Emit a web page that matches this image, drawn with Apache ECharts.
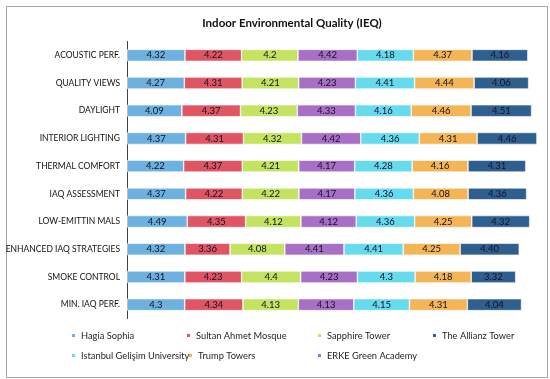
<!DOCTYPE html>
<html>
<head>
<meta charset="utf-8">
<script src="https://cdn.jsdelivr.net/npm/echarts@6/dist/echarts.min.js"></script>
<style>html,body{margin:0;padding:0;background:#fff}#c{width:550px;height:379px}</style>
</head>
<body>
<div id="c"></div>
<script>
const categories = ['ACOUSTIC PERF.','QUALITY VIEWS','DAYLIGHT','INTERIOR LIGHTING','THERMAL COMFORT','IAQ ASSESSMENT','LOW-EMITTIN MALS','ENHANCED IAQ STRATEGIES','SMOKE CONTROL','MIN. IAQ PERF.'];
const hagiaSophia   = [4.32,4.27,4.09,4.37,4.22,4.37,4.49,4.32,4.31,4.3];
const sultanAhmet   = [4.22,4.31,4.37,4.31,4.37,4.22,4.35,3.36,4.23,4.34];
const sapphire      = [4.2,4.21,4.23,4.32,4.21,4.22,4.12,4.08,4.4,4.13];
const erke          = [4.42,4.23,4.33,4.42,4.17,4.17,4.12,4.41,4.23,4.13];
const gelisim       = [4.18,4.41,4.16,4.36,4.28,4.36,4.36,4.41,4.3,4.15];
const trump         = [4.37,4.44,4.46,4.31,4.16,4.08,4.25,4.25,4.18,4.31];
const allianz       = [4.16,4.06,4.51,4.46,4.31,4.36,4.32,4.40,3.32,4.04];
const allianzLabels = ['4.16','4.06','4.51','4.46','4.31','4.36','4.32','4.40','3.32','4.04'];

const FONT = 'Lato, "Liberation Sans", sans-serif';
const seriesDefs = [
  ['Hagia Sophia', hagiaSophia, '#6db1e0'],
  ['Sultan Ahmet Mosque', sultanAhmet, '#e05563'],
  ['Sapphire Tower', sapphire, '#c4e360'],
  ['ERKE Green Academy', erke, '#a76fc5'],
  ['Istanbul Gelişim University', gelisim, '#66dbee'],
  ['Trump Towers', trump, '#f3b556'],
  ['The Allianz Tower', allianz, '#2f5f8f']
];
const series = seriesDefs.map(([name, data, color]) => ({
  name, type: 'bar', stack: 'all', data, barWidth: 12,
  itemStyle: {color, borderColor: '#ffffff', borderWidth: 0.6},
  label: {
    show: true, position: 'inside', color: '#111122', fontFamily: FONT, fontSize: 9.5,
    formatter: p => name === 'The Allianz Tower' ? allianzLabels[p.dataIndex] : String(p.value)
  },
  emphasis: {disabled: true}
}));

const legendPos = [
  ['Hagia Sophia', 70, 331],
  ['Sultan Ahmet Mosque', 185, 331],
  ['Sapphire Tower', 316, 331],
  ['The Allianz Tower', 431, 331],
  ['Trump Towers', 187, 351],
  ['ERKE Green Academy', 316, 351],
  ['Istanbul Gelişim University', 70, 351]
];
const legends = legendPos.map(([n, l, t], i) => ({
  data: [n], left: l, top: t, itemWidth: 5, itemHeight: 5, itemGap: 0, padding: 0,
  icon: 'rect', selectedMode: false, z: 4 + i,
  textStyle: {fontFamily: FONT, fontSize: 9.3, color: '#262626', overflow: 'none', width: 200}
}));

const chart = echarts.init(document.getElementById('c'), null, {renderer: 'canvas'});
chart.setOption({
  animation: false,
  backgroundColor: '#fff',
  title: {
    text: 'Indoor Environmental Quality (IEQ)', left: 287, top: 12, textAlign: 'center',
    textStyle: {fontFamily: FONT, fontSize: 11.5, fontWeight: 'bold', color: '#111'}
  },
  graphic: [{type: 'rect', left: 4, top: 4, shape: {width: 541, height: 371},
    style: {fill: 'none', stroke: '#a6a6a6', lineWidth: 1}, silent: true, z: -1}],
  legend: legends,
  grid: {left: 127, top: 41.5, height: 277, width: 416, outerBoundsMode: 'none', containLabel: false},
  xAxis: {type: 'value', min: 0, max: 31, show: false},
  yAxis: {
    type: 'category', data: categories, inverse: true,
    axisLine: {show: true, lineStyle: {color: '#404040', width: 1}},
    axisTick: {show: false},
    axisLabel: {fontFamily: FONT, fontSize: 8.5, color: '#111', margin: 7}
  },
  series
});
</script>
</body>
</html>
